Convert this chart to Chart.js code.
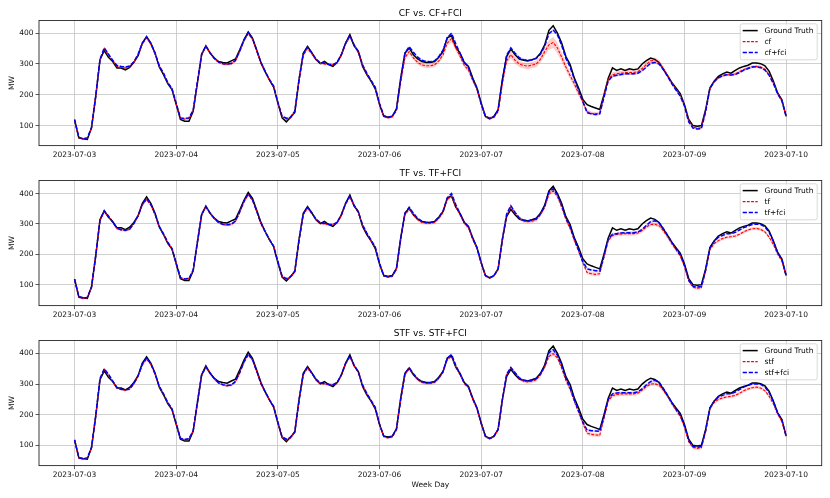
<!DOCTYPE html>
<html>
<head>
<meta charset="utf-8">
<script src="https://cdn.jsdelivr.net/npm/chart.js@4.4.1/dist/chart.umd.min.js"></script>
<style>
    body { margin: 0; background: #fff; }
    #wrap { position: relative; width: 830px; height: 498px; overflow: hidden; }
    canvas { position: absolute; left: 0; }
</style>
</head>
<body>
<div id="wrap">
    <canvas id="c1" width="830" height="160" style="top:0px"></canvas>
    <canvas id="c2" width="830" height="160" style="top:160px"></canvas>
    <canvas id="c3" width="830" height="178" style="top:320px"></canvas>
</div>
<script>
// hourly values, 2023-07-03 00:00 .. 2023-07-10 00:00
const dayLabels = ['2023-07-03', '2023-07-04', '2023-07-05', '2023-07-06', '2023-07-07', '2023-07-08', '2023-07-09', '2023-07-10'];
const yTicks = [100, 200, 300, 400];

const groundTruth = [
    118, 60, 57, 55, 93, 195, 314, 343, 322, 308, 287, 287, 281, 289, 305, 327, 368, 389, 368, 335, 290, 265, 236, 217,
    168, 120, 114, 114, 146, 238, 330, 359, 335, 319, 308, 305, 303, 310, 316, 346, 378, 404, 384, 345, 305, 275, 248, 225,
    173, 125, 112, 127, 143, 249, 335, 357, 337, 314, 301, 308, 298, 292, 305, 330, 368, 395, 359, 341, 292, 265, 244, 219,
    168, 130, 127, 130, 154, 254, 335, 352, 330, 316, 308, 305, 305, 308, 322, 341, 385, 392, 355, 335, 305, 292, 254, 222,
    173, 130, 122, 130, 152, 249, 324, 348, 330, 316, 312, 310, 314, 319, 335, 362, 409, 424, 400, 368, 324, 298, 254, 222,
    185, 168, 162, 157, 152, 200, 254, 287, 279, 284, 279, 284, 281, 284, 300, 311, 319, 315, 305, 283, 262, 240, 222, 204,
    168, 120, 100, 98, 100, 152, 222, 244, 260, 268, 274, 270, 279, 287, 292, 296, 303, 303, 301, 294, 276, 244, 206, 184,
    130
];

const cf = [
    116, 60, 56, 59, 92, 195, 312, 350, 330, 310, 292, 289, 287, 291, 305, 330, 365, 385, 364, 332, 293, 268, 239, 218,
    170, 124, 121, 123, 148, 240, 330, 356, 336, 318, 306, 300, 298, 300, 310, 340, 375, 398, 380, 342, 302, 274, 248, 226,
    175, 128, 121, 125, 145, 245, 328, 350, 333, 314, 302, 300, 298, 297, 303, 328, 365, 388, 360, 336, 295, 268, 245, 222,
    170, 130, 125, 128, 148, 240, 320, 340, 320, 305, 297, 294, 294, 297, 310, 330, 368, 382, 352, 325, 296, 280, 246, 218,
    168, 128, 124, 127, 145, 235, 310, 330, 312, 300, 295, 293, 296, 300, 315, 340, 362, 370, 352, 322, 290, 262, 235, 205,
    178, 145, 140, 138, 140, 195, 250, 265, 268, 270, 272, 272, 272, 275, 285, 298, 310, 312, 305, 285, 262, 238, 218, 198,
    165, 115, 95, 92, 93, 148, 220, 242, 255, 262, 265, 265, 268, 275, 282, 287, 291, 292, 290, 283, 265, 238, 205, 180,
    130
];
const cfFci = [
    120, 62, 57, 60, 94, 197, 315, 352, 332, 312, 295, 292, 290, 293, 307, 332, 368, 388, 367, 336, 294, 270, 240, 220,
    172, 125, 123, 125, 150, 242, 332, 358, 336, 318, 306, 301, 299, 302, 312, 342, 378, 402, 383, 344, 304, 276, 250, 228,
    176, 130, 124, 127, 147, 250, 333, 355, 336, 316, 304, 302, 299, 298, 305, 331, 368, 392, 362, 340, 297, 270, 247, 224,
    172, 132, 127, 130, 152, 250, 335, 356, 338, 322, 312, 308, 307, 310, 324, 345, 385, 400, 365, 335, 305, 288, 252, 222,
    170, 130, 124, 128, 150, 245, 328, 352, 335, 320, 314, 312, 313, 318, 332, 358, 398, 410, 395, 360, 318, 290, 250, 215,
    178, 142, 138, 136, 138, 192, 245, 260, 263, 266, 268, 268, 268, 270, 278, 290, 302, 305, 300, 282, 260, 236, 215, 196,
    163, 112, 92, 89, 90, 145, 220, 242, 255, 262, 265, 264, 266, 272, 280, 285, 290, 291, 288, 280, 263, 236, 203, 180,
    130
];

const tf = [
    115, 58, 54, 57, 90, 195, 310, 340, 325, 305, 285, 280, 278, 282, 300, 325, 362, 380, 362, 330, 290, 265, 238, 218,
    170, 122, 118, 120, 146, 240, 330, 355, 335, 317, 304, 298, 296, 298, 308, 338, 372, 396, 378, 340, 300, 273, 248, 226,
    175, 126, 118, 124, 143, 245, 330, 352, 334, 314, 302, 300, 298, 297, 303, 328, 365, 388, 360, 336, 295, 268, 245, 222,
    168, 128, 124, 127, 150, 248, 330, 348, 330, 314, 305, 302, 302, 305, 318, 338, 380, 392, 358, 330, 302, 288, 250, 220,
    170, 128, 122, 128, 150, 245, 328, 356, 335, 318, 310, 307, 309, 314, 330, 355, 398, 409, 390, 355, 315, 285, 245, 210,
    172, 140, 136, 134, 136, 190, 245, 262, 265, 267, 268, 268, 268, 270, 278, 290, 298, 299, 294, 278, 258, 235, 215, 195,
    160, 112, 92, 88, 90, 145, 215, 235, 245, 252, 256, 258, 260, 266, 274, 280, 284, 285, 282, 274, 256, 232, 200, 178,
    130
];
const tfFci = [
    118, 60, 56, 58, 92, 197, 313, 343, 326, 306, 286, 281, 279, 283, 302, 327, 365, 384, 365, 333, 292, 267, 240, 219,
    171, 123, 119, 121, 148, 242, 332, 357, 336, 318, 305, 299, 297, 299, 310, 340, 375, 399, 380, 342, 302, 275, 249, 227,
    176, 128, 120, 126, 145, 247, 333, 355, 336, 316, 304, 302, 299, 298, 305, 331, 368, 392, 362, 339, 297, 270, 247, 224,
    170, 130, 126, 129, 152, 250, 335, 355, 335, 318, 309, 305, 305, 308, 322, 342, 386, 400, 364, 334, 305, 290, 252, 222,
    172, 130, 123, 129, 152, 248, 332, 360, 338, 320, 312, 310, 312, 317, 333, 358, 405, 416, 396, 362, 320, 290, 250, 214,
    176, 152, 148, 146, 145, 195, 250, 266, 268, 270, 271, 271, 271, 273, 282, 295, 307, 310, 304, 285, 263, 240, 218, 198,
    163, 115, 95, 92, 94, 148, 220, 242, 256, 262, 268, 268, 272, 280, 288, 293, 298, 300, 298, 290, 272, 242, 206, 182,
    130
];

const stf = [
    116, 58, 55, 58, 92, 196, 315, 348, 330, 308, 288, 282, 280, 283, 300, 325, 362, 382, 364, 332, 292, 266, 238, 218,
    170, 122, 118, 121, 147, 240, 328, 354, 334, 316, 303, 297, 294, 296, 307, 336, 370, 395, 378, 340, 300, 273, 248, 226,
    175, 126, 118, 124, 143, 245, 330, 352, 334, 314, 302, 300, 298, 297, 303, 328, 365, 388, 360, 336, 295, 268, 245, 222,
    168, 128, 124, 127, 150, 248, 330, 350, 332, 314, 305, 302, 302, 305, 318, 338, 380, 390, 356, 330, 302, 288, 250, 220,
    170, 128, 122, 128, 150, 246, 330, 353, 335, 318, 309, 307, 309, 314, 330, 355, 390, 399, 385, 352, 312, 283, 243, 208,
    172, 140, 136, 134, 133, 188, 245, 262, 266, 268, 268, 268, 268, 270, 280, 292, 300, 301, 296, 280, 260, 236, 215, 195,
    160, 112, 93, 90, 92, 145, 218, 240, 250, 255, 258, 260, 263, 270, 278, 284, 288, 290, 287, 278, 260, 235, 202, 178,
    130
];
const stfFci = [
    118, 60, 56, 59, 93, 198, 318, 350, 332, 310, 289, 283, 281, 284, 302, 327, 365, 385, 366, 334, 293, 268, 240, 219,
    171, 123, 119, 122, 148, 242, 330, 356, 336, 317, 304, 298, 295, 297, 309, 338, 373, 398, 380, 342, 302, 275, 249, 227,
    176, 128, 120, 126, 145, 247, 333, 355, 336, 316, 304, 302, 299, 298, 305, 331, 368, 392, 362, 339, 297, 270, 247, 224,
    170, 130, 126, 129, 152, 250, 334, 353, 334, 317, 308, 304, 304, 307, 321, 341, 385, 396, 362, 333, 304, 290, 252, 222,
    172, 130, 123, 129, 152, 248, 332, 354, 337, 320, 312, 310, 312, 317, 333, 358, 402, 412, 394, 360, 318, 288, 248, 213,
    176, 150, 148, 147, 146, 195, 250, 268, 271, 272, 272, 272, 272, 274, 284, 297, 308, 312, 306, 286, 264, 240, 218, 198,
    163, 115, 96, 94, 96, 148, 222, 244, 258, 263, 268, 268, 274, 282, 290, 296, 300, 301, 299, 290, 272, 243, 206, 182,
    130
];

// half width of the shaded uncertainty bands
const cfBand = [
    3, 3, 3, 3, 3, 4, 4, 5, 4, 4, 4, 4, 4, 4, 4, 4, 5, 5, 5, 4, 4, 4, 4, 4,
    3, 3, 3, 3, 3, 4, 4, 5, 4, 4, 4, 4, 4, 4, 4, 4, 5, 5, 5, 4, 4, 4, 4, 4,
    4, 3, 3, 3, 3, 4, 5, 5, 5, 4, 4, 4, 4, 4, 4, 5, 5, 6, 5, 5, 4, 4, 4, 4,
    5, 4, 4, 4, 4, 5, 7, 8, 7, 7, 7, 7, 7, 7, 7, 8, 9, 10, 9, 8, 7, 6, 6, 5,
    6, 5, 5, 5, 5, 7, 10, 12, 11, 10, 10, 10, 10, 10, 11, 13, 16, 18, 17, 15, 13, 12, 10, 9,
    8, 7, 6, 6, 6, 7, 8, 8, 8, 8, 8, 8, 8, 8, 8, 8, 9, 9, 8, 8, 7, 7, 6, 6,
    5, 4, 4, 4, 4, 4, 5, 5, 5, 5, 5, 5, 5, 5, 5, 5, 5, 5, 5, 5, 5, 5, 4, 4,
    4
];
const predBand = [
    3, 3, 3, 3, 3, 4, 4, 4, 4, 4, 4, 4, 4, 4, 4, 4, 4, 5, 4, 4, 4, 4, 4, 4,
    3, 3, 3, 3, 3, 4, 4, 4, 4, 4, 4, 4, 4, 4, 4, 4, 4, 5, 4, 4, 4, 4, 4, 4,
    3, 3, 3, 3, 3, 4, 4, 4, 4, 4, 4, 4, 4, 4, 4, 4, 4, 5, 4, 4, 4, 4, 4, 4,
    4, 3, 3, 3, 3, 4, 5, 5, 5, 5, 5, 5, 5, 5, 5, 5, 5, 6, 5, 5, 5, 5, 4, 4,
    4, 4, 4, 4, 4, 5, 5, 6, 6, 6, 6, 6, 6, 6, 6, 6, 6, 7, 6, 6, 6, 6, 6, 6,
    6, 6, 6, 6, 6, 6, 6, 6, 6, 6, 6, 6, 6, 6, 6, 6, 6, 6, 6, 6, 6, 6, 6, 6,
    5, 5, 5, 5, 5, 5, 5, 5, 5, 5, 5, 5, 5, 5, 5, 5, 5, 5, 5, 5, 5, 5, 5, 4,
    4
];
const fciBand = [
    3, 3, 3, 3, 3, 3, 3, 4, 3, 3, 3, 3, 3, 3, 3, 3, 4, 4, 4, 3, 3, 3, 3, 3,
    3, 3, 3, 3, 3, 3, 3, 4, 3, 3, 3, 3, 3, 3, 3, 3, 4, 4, 4, 3, 3, 3, 3, 3,
    3, 3, 3, 3, 3, 3, 3, 4, 3, 3, 3, 3, 3, 3, 3, 3, 4, 4, 4, 3, 3, 3, 3, 3,
    3, 3, 3, 3, 3, 3, 4, 4, 4, 3, 3, 3, 3, 3, 3, 4, 4, 5, 4, 4, 3, 3, 3, 3,
    3, 3, 3, 3, 3, 3, 4, 4, 4, 4, 4, 4, 4, 4, 4, 4, 5, 5, 5, 4, 4, 4, 4, 3,
    4, 4, 4, 4, 4, 4, 4, 4, 4, 4, 4, 4, 4, 4, 4, 4, 4, 4, 4, 4, 4, 4, 4, 4,
    3, 3, 3, 3, 3, 3, 3, 3, 3, 3, 3, 3, 3, 3, 3, 3, 3, 3, 3, 3, 3, 3, 3, 3,
    3
];

const FONT = 'DejaVu Sans';

function points(values) {
    return values.map((v, i) => ({ x: i, y: v }));
}

function offsetPoints(values, band, sign) {
    return values.map((v, i) => ({ x: i, y: v + sign * band[i] }));
}

// axes frame on all four sides and a matplotlib-like legend box
const frameLegend = {
    id: 'frameLegend',
    afterDraw(chart, args, opts) {
        const ctx = chart.ctx;
        const a = chart.chartArea;
        ctx.save();
        ctx.strokeStyle = '#262626';
        ctx.lineWidth = 0.9;
        ctx.strokeRect(a.left, a.top, a.right - a.left, a.bottom - a.top);

        const w = 77, h = 36;
        const bx = a.right - 4.5 - w, by = a.top + 3.3;
        ctx.beginPath();
        ctx.roundRect(bx, by, w, h, 2);
        ctx.fillStyle = 'rgba(255,255,255,0.85)';
        ctx.fill();
        ctx.strokeStyle = '#cfcfcf';
        ctx.lineWidth = 0.8;
        ctx.stroke();

        ctx.font = '7.5px "' + FONT + '"';
        ctx.textBaseline = 'middle';
        opts.items.forEach((it, k) => {
            const cy = by + 6.8 + k * 11;
            ctx.beginPath();
            ctx.setLineDash(it.dash);
            ctx.strokeStyle = it.color;
            ctx.lineWidth = it.width;
            ctx.moveTo(bx + 2.5, cy);
            ctx.lineTo(bx + 17.5, cy);
            ctx.stroke();
            ctx.setLineDash([]);
            ctx.fillStyle = '#000';
            ctx.fillText(it.label, bx + 24.3, cy + 0.5);
        });
        ctx.restore();
    }
};

function createPanel(canvasId, title, predName, pred, band, fci, yMin, yMax, showXTitle) {
    const ctx = document.getElementById(canvasId).getContext('2d');
    const red = { color: '#ff0000', width: 1.1, dash: [2.8, 1.4] };
    const blue = { color: '#0000ff', width: 1.5, dash: [4.2, 1.8] };

    return new Chart(ctx, {
        type: 'line',
        data: {
            datasets: [
                { data: offsetPoints(pred, band, -1), borderWidth: 0, pointRadius: 0, fill: false, order: 6 },
                { data: offsetPoints(pred, band, 1), borderWidth: 0, pointRadius: 0, fill: '-1', backgroundColor: 'rgba(255,0,0,0.2)', order: 5 },
                { data: offsetPoints(fci, fciBand, -1), borderWidth: 0, pointRadius: 0, fill: false, order: 4 },
                { data: offsetPoints(fci, fciBand, 1), borderWidth: 0, pointRadius: 0, fill: '-1', backgroundColor: 'rgba(0,0,255,0.15)', order: 3 },
                { label: 'Ground Truth', data: points(groundTruth), borderColor: '#000', borderWidth: 1.5, pointRadius: 0, fill: false, order: 2 },
                { label: predName, data: points(pred), borderColor: red.color, borderWidth: red.width, borderDash: red.dash, pointRadius: 0, fill: false, order: 1 },
                { label: predName + '+fci', data: points(fci), borderColor: blue.color, borderWidth: blue.width, borderDash: blue.dash, pointRadius: 0, fill: false, order: 0 }
            ]
        },
        options: {
            responsive: false,
            animation: false,
            events: [],
            layout: { padding: { left: 0, right: 8.3, top: 0, bottom: 0 } },
            elements: { line: { tension: 0 } },
            scales: {
                x: {
                    type: 'linear',
                    min: -8.4,
                    max: 176.4,
                    afterBuildTicks: (s) => { s.ticks = dayLabels.map((d, i) => ({ value: i * 24 })); },
                    afterFit: (s) => { s.height = showXTitle ? 32.4 : 14.4; },
                    ticks: {
                        callback: (v, i) => dayLabels[i],
                        autoSkip: false,
                        maxRotation: 0,
                        padding: 1.5,
                        color: '#111',
                        font: { family: FONT, size: 7.5 }
                    },
                    grid: { color: '#c4c4c4', lineWidth: 0.8, drawTicks: true, tickLength: 3.5, tickColor: '#333', tickWidth: 0.8 },
                    border: { display: false },
                    title: {
                        display: showXTitle,
                        text: 'Week Day',
                        color: '#111',
                        font: { family: FONT, size: 7.5 },
                        padding: { top: 0, bottom: 8.5 }
                    }
                },
                y: {
                    min: yMin,
                    max: yMax,
                    afterBuildTicks: (s) => { s.ticks = yTicks.map((v) => ({ value: v })); },
                    afterFit: (s) => { s.width = 39; },
                    ticks: { padding: 2, color: '#111', font: { family: FONT, size: 7.5 } },
                    grid: { color: '#c4c4c4', lineWidth: 0.8, drawTicks: true, tickLength: 3.5, tickColor: '#333', tickWidth: 0.8 },
                    border: { display: false },
                    title: {
                        display: true,
                        text: 'MW',
                        color: '#111',
                        font: { family: FONT, size: 7.5 },
                        padding: { top: 7.5, bottom: 0 }
                    }
                }
            },
            plugins: {
                legend: { display: false },
                tooltip: { enabled: false },
                title: {
                    display: true,
                    text: title,
                    fullSize: false,
                    color: '#000',
                    font: { family: FONT, size: 9, weight: 'normal' },
                    padding: { top: 8, bottom: 1.7 }
                },
                frameLegend: {
                    items: [
                        { label: 'Ground Truth', color: '#000', width: 1.5, dash: [] },
                        { label: predName, color: red.color, width: red.width, dash: red.dash },
                        { label: predName + '+fci', color: blue.color, width: blue.width, dash: blue.dash }
                    ]
                }
            }
        },
        plugins: [frameLegend]
    });
}

createPanel('c1', 'CF vs. CF+FCI', 'cf', cf, cfBand, cfFci, 35, 441, false);
createPanel('c2', 'TF vs. TF+FCI', 'tf', tf, predBand, tfFci, 31, 443, false);
createPanel('c3', 'STF vs. STF+FCI', 'stf', stf, predBand, stfFci, 34, 442, true);
</script>
</body>
</html>
